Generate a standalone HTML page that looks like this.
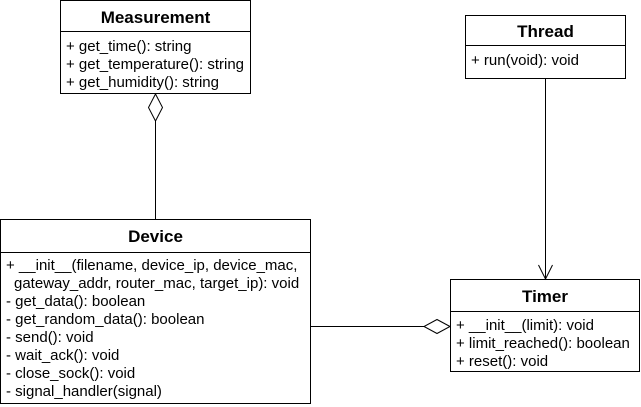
<!DOCTYPE html>
<html><head><style>
html,body{margin:0;padding:0;background:#fff;}
svg{display:block;}
text{font-family:"Liberation Sans",Arial,sans-serif;font-size:15px;fill:#000;}
.t{font-weight:bold;font-size:17px;}
</style></head><body>
<svg width="641" height="407" viewBox="0 0 641 407" xmlns="http://www.w3.org/2000/svg">
<g fill="none" stroke="#000" stroke-width="1">
<rect x="60.5" y="0.5" width="190" height="93"/>
<line x1="60.5" y1="31.5" x2="250.5" y2="31.5"/>
<rect x="465.5" y="15.5" width="160" height="63"/>
<line x1="465.5" y1="45.5" x2="625.5" y2="45.5"/>
<rect x="0.5" y="219.5" width="310" height="184"/>
<line x1="0.5" y1="252.5" x2="310.5" y2="252.5"/>
<rect x="450.5" y="279.5" width="189" height="92"/>
<line x1="450.5" y1="311.5" x2="639.5" y2="311.5"/>
<line x1="155.5" y1="121" x2="155.5" y2="219.5"/>
<polygon points="155.5,94 162.5,107.5 155.5,121 148.5,107.5" fill="#fff"/>
<line x1="310.5" y1="326.5" x2="424" y2="326.5"/>
<polygon points="450,326.5 437,319.5 424,326.5 437,333.5" fill="#fff"/>
<line x1="545.5" y1="78.5" x2="545.5" y2="279"/>
<polyline points="538.5,265 545.5,279 552.5,265"/>
</g>
<text class="t" x="155.5" y="23" text-anchor="middle">Measurement</text>
<text x="66" y="51">+ get_time(): string</text>
<text x="66" y="69">+ get_temperature(): string</text>
<text x="66" y="87">+ get_humidity(): string</text>
<text class="t" x="545.5" y="37" text-anchor="middle">Thread</text>
<text x="471" y="65">+ run(void): void</text>
<text class="t" x="155.5" y="242" text-anchor="middle">Device</text>
<text x="6" y="270">+ __init__(filename, device_ip, device_mac,</text>
<text x="14" y="288">gateway_addr, router_mac, target_ip): void</text>
<text x="6" y="306">- get_data(): boolean</text>
<text x="6" y="324">- get_random_data(): boolean</text>
<text x="6" y="342">- send(): void</text>
<text x="6" y="360">- wait_ack(): void</text>
<text x="6" y="378">- close_sock(): void</text>
<text x="6" y="396">- signal_handler(signal)</text>
<text class="t" x="545" y="302" text-anchor="middle">Timer</text>
<text x="456" y="330">+ __init__(limit): void</text>
<text x="456" y="348">+ limit_reached(): boolean</text>
<text x="456" y="366">+ reset(): void</text>
</svg>
</body></html>
